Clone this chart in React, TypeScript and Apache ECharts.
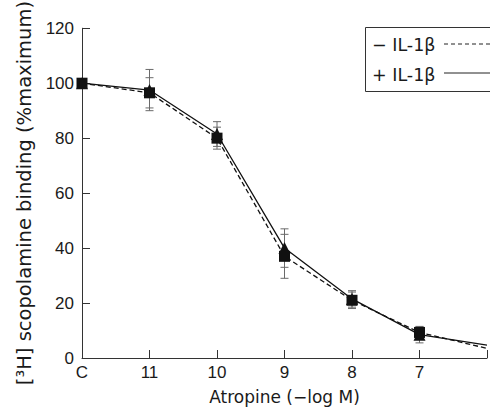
import React, { useEffect, useRef } from "react";
import * as echarts from "echarts";

// Atropine concentration (−log M); 12 stands for the control "C"
const xValues = [12, 11, 10, 9, 8, 7];
const tailX = 6;
const xTickLabels: Record<number, string> = { 12: "C", 11: "11", 10: "10", 9: "9", 8: "8", 7: "7", 6: "" };

// − IL-1β (dashed, squares)
const minusValues = [100, 96.5, 80, 37, 21, 9.3];
const minusErr = [0, 5.5, 4, 8, 3, 2];
const minusTail = 3.5;

// + IL-1β (solid, triangles)
const plusValues = [100, 97.5, 81.5, 40, 21.5, 8.5];
const plusErr = [0, 7.5, 4.5, 7, 3, 3];
const plusTail = 4.7;

const yTicks = { min: 0, max: 120, interval: 20 };

const TITLE_FONT = "DejaVu Sans";
const TICK_FONT = "Liberation Sans";

export default function App() {
  const ref = useRef<HTMLDivElement>(null);
  useEffect(() => {
    if (!ref.current) return;
    const chart = echarts.init(ref.current, undefined, { renderer: "svg" });

    const lineData = (vals: number[], tail: number) => [
      ...xValues.map((x, i) => [x, vals[i]]),
      { value: [tailX, tail], symbol: "none" },
    ];
    const errData = (vals: number[], errs: number[]) =>
      xValues
        .map((x, i) => [x, vals[i] - errs[i], vals[i] + errs[i]])
        .filter((_, i) => errs[i] > 0);

    const errSeries = (name: string, vals: number[], errs: number[]) => ({
      type: "custom",
      name,
      silent: true,
      z: 1,
      data: errData(vals, errs),
      renderItem: (params: any, api: any) => {
        const x = api.value(0);
        const lo = api.coord([x, api.value(1)]);
        const hi = api.coord([x, api.value(2)]);
        const w = 4;
        const style = { stroke: "#6a6a6a", lineWidth: 1 };
        return {
          type: "group",
          children: [
            { type: "line", shape: { x1: lo[0], y1: lo[1], x2: hi[0], y2: hi[1] }, style },
            { type: "line", shape: { x1: lo[0] - w, y1: lo[1], x2: lo[0] + w, y2: lo[1] }, style },
            { type: "line", shape: { x1: hi[0] - w, y1: hi[1], x2: hi[0] + w, y2: hi[1] }, style },
          ],
        };
      },
    });

    chart.setOption({
      animation: false,
      backgroundColor: "#ffffff",
      grid: { left: 82, right: -6, top: 27, bottom: 48, containLabel: false },
      xAxis: {
        type: "value",
        min: 6,
        max: 12,
        interval: 1,
        inverse: true,
        name: "Atropine (−log M)",
        nameLocation: "middle",
        nameGap: 30,
        nameTextStyle: { fontFamily: TITLE_FONT, fontSize: 17, color: "#1a1a1a" },
        axisLine: { lineStyle: { color: "#333", width: 1 } },
        axisTick: { inside: true, length: 8, lineStyle: { color: "#333" } },
        axisLabel: {
          margin: 6,
          fontFamily: TICK_FONT,
          fontSize: 17,
          color: "#1a1a1a",
          formatter: (v: number) => xTickLabels[v] ?? String(v),
        },
        splitLine: { show: false },
      },
      yAxis: {
        type: "value",
        min: yTicks.min,
        max: yTicks.max,
        interval: yTicks.interval,
        name: "[³H] scopolamine binding (%maximum)",
        nameLocation: "middle",
        nameGap: 42,
        nameTextStyle: { fontFamily: TITLE_FONT, fontSize: 19.5, color: "#1a1a1a" },
        axisLine: { show: true, lineStyle: { color: "#333", width: 1 } },
        axisTick: { show: true, inside: true, length: 8, lineStyle: { color: "#333" } },
        axisLabel: { margin: 8, fontFamily: TICK_FONT, fontSize: 17, color: "#1a1a1a" },
        splitLine: { show: false },
      },
      series: [
        errSeries("err-minus", minusValues, minusErr),
        errSeries("err-plus", plusValues, plusErr),
        {
          type: "line",
          name: "− IL-1β",
          data: lineData(minusValues, minusTail),
          symbol: "rect",
          symbolSize: 11,
          z: 3,
          lineStyle: { color: "#111", width: 1.3, type: [5, 3] },
          itemStyle: { color: "#111" },
        },
        {
          type: "line",
          name: "+ IL-1β",
          data: lineData(plusValues, plusTail),
          symbol: "triangle",
          symbolSize: 12,
          z: 4,
          lineStyle: { color: "#111", width: 1.3 },
          itemStyle: { color: "#111" },
        },
      ],
      graphic: [
        {
          type: "group",
          z: 10,
          children: [
            { type: "rect", shape: { x: 365.5, y: 27.5, width: 130, height: 64 }, style: { fill: "#fff", stroke: "#333", lineWidth: 1 } },
            { type: "text", x: 372, y: 45, style: { text: "− IL-1β", fontFamily: TITLE_FONT, fontSize: 17.5, fill: "#1a1a1a", verticalAlign: "middle" } },
            { type: "line", shape: { x1: 444, y1: 44, x2: 492, y2: 44 }, style: { stroke: "#222", lineWidth: 1, lineDash: [4, 3] } },
            { type: "text", x: 372, y: 75, style: { text: "+ IL-1β", fontFamily: TITLE_FONT, fontSize: 17.5, fill: "#1a1a1a", verticalAlign: "middle" } },
            { type: "line", shape: { x1: 444, y1: 73, x2: 492, y2: 73 }, style: { stroke: "#222", lineWidth: 1 } },
          ],
        },
      ],
    });
    return () => chart.dispose();
  }, []);
  return <div ref={ref} style={{ position: "fixed", left: 0, top: 0, width: 490, height: 410 }} />;
}
